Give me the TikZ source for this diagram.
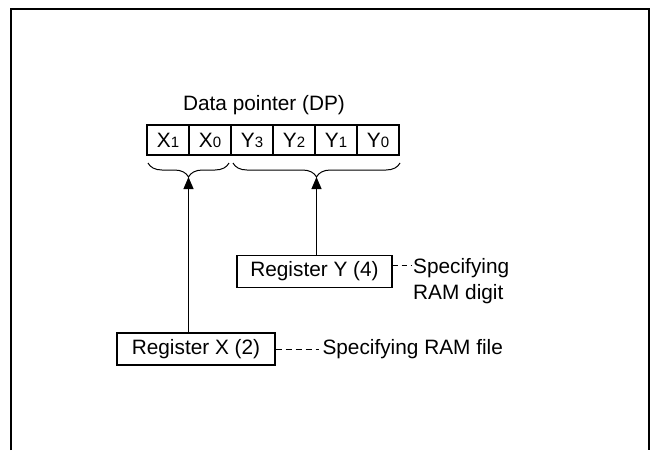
\documentclass[tikz,border=0pt]{standalone}
\usepackage{fontspec}
\setmainfont{Liberation Sans}
\usetikzlibrary{arrows.meta,decorations.pathreplacing}
\newcommand{\sbs}[1]{{\fontsize{15}{15}\selectfont #1}}
\begin{document}
\begin{tikzpicture}[x=1pt,y=-1pt,
  every node/.style={font=\fontsize{20.8}{24}\selectfont},
  cell/.style={draw,line width=1.3pt,minimum width=42pt,minimum height=30pt,inner sep=0pt},
  regbox/.style={draw,line width=1.4pt,inner sep=0pt,minimum height=32pt},
  bracestyle/.style={decorate,decoration={brace,mirror,amplitude=14pt},line width=1pt},
  arrowline/.style={line width=1.1pt,-{Triangle[length=12pt,width=10pt]}},
  dashline/.style={line width=1pt,dash pattern=on 6pt off 4pt},
  frameline/.style={line width=1.8pt}]
\useasboundingbox (0,0) rectangle (650,450);
\draw[frameline] (11,450) -- (11,9) -- (649,9) -- (649,450);

\node (title) at (264,105) {Data pointer (DP)};
\node[cell] (c1) at (168,140) {X\sbs{1}};
\node[cell] (c2) at (210,140) {X\sbs{0}};
\node[cell] (c3) at (252,140) {Y\sbs{3}};
\node[cell] (c4) at (294,140) {Y\sbs{2}};
\node[cell] (c5) at (336,140) {Y\sbs{1}};
\node[cell] (c6) at (378,140) {Y\sbs{0}};

\coordinate (bxl) at (148,163);
\coordinate (bxr) at (229,163);
\coordinate (byl) at (233,163);
\coordinate (byr) at (400,163);
\draw[bracestyle] (bxl) -- (bxr);
\draw[bracestyle] (byl) -- (byr);
\coordinate (tx) at (188.5,177);
\coordinate (ty) at (316.5,177);

\node[regbox,minimum width=155pt] (ry) at (314.5,271.5) {Register Y (4)};
\node[regbox,minimum width=158pt] (rx) at (196,349) {Register X (2)};

\draw[arrowline] (rx.north -| tx) -- (tx);
\draw[arrowline] (ry.north -| ty) -- (ty);

\node[anchor=west] (sx) at (319,349) {Specifying RAM file};
\node[anchor=north west,align=left,inner sep=0pt,font=\fontsize{20.8}{26}\selectfont] (sy) at (413,258) {Specifying\\RAM digit};
\coordinate (dy) at (411,265);
\draw[dashline] (rx.east) -- (sx.west);
\draw[dashline,dash pattern=on 5pt off 4pt] (ry.east |- dy) -- (dy);
\end{tikzpicture}
\end{document}
